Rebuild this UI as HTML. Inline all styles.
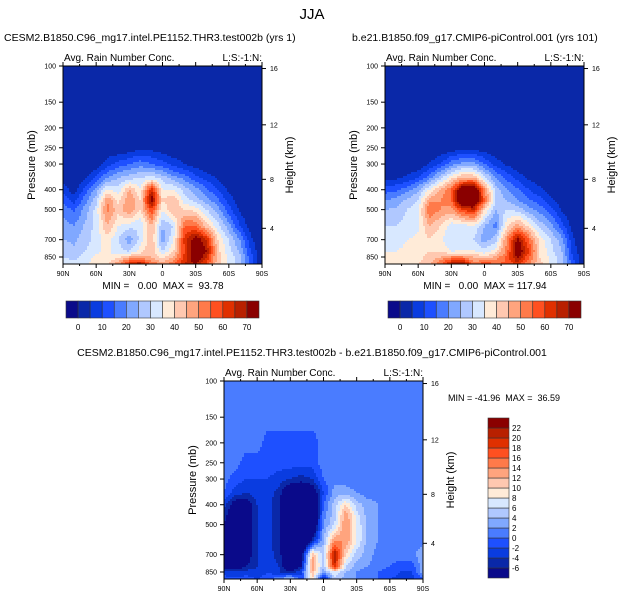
<!DOCTYPE html>
<html><head><meta charset="utf-8">
<style>
body{margin:0;background:#fff;}
svg{display:block;font-family:"Liberation Sans",Arial,sans-serif;}
</style></head>
<body>
<svg id="fig" width="624" height="602" viewBox="0 0 624 602">
<rect width="624" height="602" fill="#fff"/>
<text x="312" y="19" font-size="15" text-anchor="middle">JJA</text>
</svg>
<script>
// ===== data =====
const lats = [90,80,70,60,50,40,30,20,10,0,-10,-20,-30,-40,-50,-60,-70,-80,-90];
const pLevels = [100,150,200,250,300,350,400,450,500,600,700,800,850,925];
const latTickLabels = ["90N","60N","30N","0","30S","60S","90S"];
const latTicks = [90,60,30,0,-30,-60,-90];
const pTicks = [100,150,200,250,300,400,500,700,850];
const zTicks = [4,8,12,16];
const topBounds = [0,5,10,15,20,25,30,35,40,45,50,55,60,65,70];
const topBoundLabels = [0,10,20,30,40,50,60,70];
const diffBounds = [-6,-4,-2,0,2,4,6,8,10,12,14,16,18,20,22];
const palette = ["#0a0a8a","#0a28a8","#0a3ce0","#1e50ff","#4a7cff","#80a8ff","#b0c8ff","#d8e8ff","#ffebd8","#ffc8b0","#ffa47e","#ff7a4a","#ff5020","#e03000","#b82000","#8a0000"];

const fieldTest = [
 [0,0,0,0,0,0,0,0,0,0,0,0,0,0,0,0,0,0,0],
 [0,0,0,0,0,0,0,0,0,0,0,0,0,0,0,0,0,0,0],
 [0,0,0,0,0,0,0,0,0,0,0,0,0,0,0,0,0,0,0],
 [0,0,0,0,0,0,1,3,3,1,0,0,0,0,0,0,0,0,0],
 [0,0,0,0,8,12,15,18,15,12,8,5,2,0,0,0,0,0,0],
 [2,0,4,12,20,25,28,30,32,28,22,18,12,8,4,0,0,0,0],
 [8,2,12,22,35,32,45,35,65,35,35,28,22,16,10,4,0,0,0],
 [14,8,18,28,50,38,50,40,75,40,45,32,28,22,16,8,2,0,0],
 [18,14,22,32,52,42,50,40,60,35,45,40,38,30,22,12,4,0,0],
 [22,20,26,32,45,35,32,30,45,25,30,55,55,42,32,22,10,2,0],
 [25,24,28,32,38,30,22,32,45,22,35,62,75,65,40,30,20,6,0],
 [28,26,30,34,36,32,30,38,45,30,40,60,80,70,42,32,24,10,0],
 [30,28,32,36,36,38,45,45,45,38,45,62,78,65,42,34,26,12,0],
 [34,32,34,38,40,50,65,72,55,48,55,65,70,58,42,34,28,14,0]
];
const fieldCtl = [
 [0,0,0,0,0,0,0,0,0,0,0,0,0,0,0,0,0,0,0],
 [0,0,0,0,0,0,0,0,0,0,0,0,0,0,0,0,0,0,0],
 [0,0,0,0,0,0,0,0,0,0,0,0,0,0,0,0,0,0,0],
 [0,0,0,0,0,0,1,3,3,1,0,0,0,0,0,0,0,0,0],
 [0,0,0,0,5,10,18,22,22,15,8,4,1,0,0,0,0,0,0],
 [3,4,6,10,18,28,38,45,45,32,20,14,8,4,2,0,0,0,0],
 [12,14,18,24,35,45,55,80,85,50,28,20,16,10,6,3,0,0,0],
 [20,22,26,30,48,50,55,85,85,55,30,25,20,16,12,6,2,0,0],
 [25,26,30,34,55,50,48,60,65,40,25,30,28,22,18,12,4,0,0],
 [30,30,32,34,45,40,32,32,35,25,18,38,48,38,28,22,12,2,0],
 [33,33,35,36,40,36,30,30,30,22,28,50,72,55,38,30,22,6,0],
 [35,35,36,38,40,40,35,36,36,32,38,52,78,60,40,32,25,8,0],
 [36,36,37,38,42,45,50,50,45,42,46,56,72,56,40,34,27,10,0],
 [38,38,38,40,44,55,70,75,52,60,56,56,62,50,42,34,28,12,0]
];
const fieldDiff = [
 [1,1,1,1,1,1,1,1,1,1,1,1,1,1,1,1,1,1,1],
 [1,1,1,1,1,1,1,1,1,1,1,1,1,1,1,1,1,1,1],
 [1,1,1,1,-1,-1,-1,-1,-1,1,1,1,1,1,1,1,1,1,1],
 [1,1,-1,-1,-1,-1,-1,-1,-1,1,1,1,1,1,1,1,1,1,1],
 [1,-1,-2,-2,-2,-3,-4,-5,-4,0,1,1,1,1,1,1,1,1,1],
 [0,-3,-4,-3,-3,-5,-10,-10,-9,-2,3,3,2,1,1,1,1,1,1],
 [-3,-8,-8,-4,-3,-6,-15,-15,-12,0,5,10,5,3,2,1,1,1,1],
 [-5,-9,-8,-4,-3,-6,-15,-15,-12,1,5,14,7,3,2,1,1,1,1],
 [-6,-10,-8,-4,-3,-6,-15,-15,-12,2,6,14,8,3,2,1,1,1,1],
 [-8,-10,-8,-4,-3,-6,-15,-15,-5,4,14,14,8,3,2,1,1,1,1],
 [-8,-10,-8,-4,-3,-5,-12,-8,12,5,22,10,5,3,1,1,1,1,4],
 [-8,-8,-6,-4,-3,-4,-10,-6,14,4,20,6,3,2,1,0,-1,-1,3],
 [-4,-4,-3,-3,-2,-4,-6,-2,12,3,8,4,2,1,0,-1,-2,-2,3],
 [0,-1,-1,-2,-1,2,6,-2,10,-6,5,3,2,1,0,-2,-3,-3,0]
];

// ===== drawing =====
const NS = "http://www.w3.org/2000/svg";
const svg = document.getElementById("fig");
function mk(tag, attrs, parent){
  const e = document.createElementNS(NS, tag);
  for (const k in attrs) e.setAttribute(k, attrs[k]);
  (parent||svg).appendChild(e);
  return e;
}
const K = 205.5;
function zToP(z){
  const m = z*1000;
  if (m <= 11000) return 1013.25*Math.pow(1-2.25577e-5*m, 5.25588);
  return 226.32*Math.exp(-(m-11000)/6341.6);
}
function levelIndex(v, bounds){
  let i = 0;
  while (i < bounds.length && v >= bounds[i]) i++;
  return i;
}
function sample(field, lat, p){
  let fi = (lats[0]-lat)/(lats[0]-lats[lats.length-1])*(lats.length-1);
  fi = Math.max(0, Math.min(lats.length-1.0001, fi));
  const i0 = Math.floor(fi), ti = fi-i0;
  const lp = Math.log10(p);
  let j0 = 0;
  while (j0 < pLevels.length-2 && Math.log10(pLevels[j0+1]) < lp) j0++;
  let tj = (lp-Math.log10(pLevels[j0]))/(Math.log10(pLevels[j0+1])-Math.log10(pLevels[j0]));
  tj = Math.max(0, Math.min(1, tj));
  const a = field[j0][i0]*(1-ti)+field[j0][i0+1]*ti;
  const b = field[j0+1][i0]*(1-ti)+field[j0+1][i0+1]*ti;
  return a*(1-tj)+b*tj;
}

function panel(cfg){
  const {x0,y0,w,h,field,bounds,name} = cfg;
  const g = mk("g",{});
  
  
  const xOf = lat => x0 + (90-lat)/180*w;
  const yOf = p => y0 + (Math.log10(p)-2)*K;
  const step = 2;
  for (let y = y0; y < y0+h; y += step){
    const p = Math.pow(10, 2 + (y+step/2-y0)/K);
    const hh = Math.min(step, y0+h-y)+0.5;
    let runStart = x0, runIdx = -1;
    const flush = (xe)=>{
      if (runIdx < 0) return;
      const r = mk("rect",{x:runStart,y:y,width:xe-runStart+0.3,height:hh,fill:palette[runIdx]},g);
      
      
    };
    for (let x = x0; x < x0+w; x += step){
      const lat = 90 - (Math.min(x+step/2, x0+w)-x0)/w*180;
      const idx = levelIndex(sample(field, lat, p), bounds);
      if (idx !== runIdx){
        flush(x);
        runStart = x; runIdx = idx;
      }
    }
    flush(x0+w-0.3);
  }
  const fr = mk("rect",{x:x0,y:y0,width:w,height:h,fill:"none",stroke:"#000","stroke-width":1});
  
  
  latTicks.forEach((lat,k)=>{
    const x = xOf(lat);
    mk("line",{x1:x,y1:y0+h,x2:x,y2:y0+h+4,stroke:"#000"});
    mk("line",{x1:x,y1:y0,x2:x,y2:y0-4,stroke:"#000"});
    const t = mk("text",{x:x,y:y0+h+12,"font-size":7,"text-anchor":"middle"});
    t.textContent = latTickLabels[k];
    
    
  });
  for (let lat=75; lat>-90; lat-=15){
    if (lat%30===0) continue;
    const x = xOf(lat);
    mk("line",{x1:x,y1:y0+h,x2:x,y2:y0+h+2,stroke:"#000"});
    mk("line",{x1:x,y1:y0,x2:x,y2:y0-2,stroke:"#000"});
  }
  pTicks.forEach(p=>{
    const y = yOf(p);
    mk("line",{x1:x0-4,y1:y,x2:x0,y2:y,stroke:"#000"});
    const t = mk("text",{x:x0-7,y:y+2.5,"font-size":7,"text-anchor":"end"});
    t.textContent = p;
    
    
  });
  zTicks.forEach(z=>{
    const y = yOf(zToP(z));
    mk("line",{x1:x0+w,y1:y,x2:x0+w+4,y2:y,stroke:"#000"});
    const t = mk("text",{x:x0+w+8,y:y+2.5,"font-size":7});
    t.textContent = z;
    
    
  });
  const t1 = mk("text",{x:x0+1,y:y0-5,"font-size":10});
  t1.textContent = "Avg. Rain Number Conc.";
  
  
  const t2 = mk("text",{x:x0+w,y:y0-5,"font-size":10,"text-anchor":"end"});
  t2.textContent = "L:S:-1:N:";
  
  
  const cy = y0+h/2;
  const t3 = mk("text",{x:x0-28,y:cy,"font-size":11,"text-anchor":"middle",transform:`rotate(-90 ${x0-28} ${cy})`});
  t3.textContent = "Pressure (mb)";
  
  
  const t4 = mk("text",{x:x0+w+31,y:cy,"font-size":11,"text-anchor":"middle",transform:`rotate(-90 ${x0+w+31} ${cy})`});
  t4.textContent = "Height (km)";
  
  
}

function hbar(x0,y0,w,h){
  const n = palette.length, bw = w/n;
  palette.forEach((c,i)=>{
    const r = mk("rect",{x:x0+i*bw,y:y0,width:bw,height:h,fill:c,stroke:"#333","stroke-width":0.6});
    
    
  });
  topBoundLabels.forEach(v=>{
    const i = topBounds.indexOf(v)+1;
    const t = mk("text",{x:x0+i*bw,y:y0+h+12,"font-size":8,"text-anchor":"middle"});
    t.textContent = v;
    
    
  });
}
function vbar(x0,y0,w,h){
  const n = palette.length, bh = h/n;
  palette.forEach((c,i)=>{
    const r = mk("rect",{x:x0,y:y0+h-(i+1)*bh,width:w,height:bh,fill:c,stroke:"#333","stroke-width":0.6});
    
    
  });
  diffBounds.forEach((v,k)=>{
    const y = y0+h-(k+1)*bh;
    const t = mk("text",{x:x0+w+3,y:y+3,"font-size":8});
    t.textContent = v;
    
    
  });
}
function label(txt,x,y,size,anchor,name){
  const t = mk("text",{x:x,y:y,"font-size":size,"text-anchor":anchor||"start"});
  t.textContent = txt;
  
  
  t.style.whiteSpace = "pre";
}

label("CESM2.B1850.C96_mg17.intel.PE1152.THR3.test002b (yrs 1)",4,41,10.5,"start","test-panel-title");
label("b.e21.B1850.f09_g17.CMIP6-piControl.001 (yrs 101)",352,41,10.5,"start","control-panel-title");
label("CESM2.B1850.C96_mg17.intel.PE1152.THR3.test002b - b.e21.B1850.f09_g17.CMIP6-piControl.001",312,356,10.5,"middle","diff-panel-title");

panel({x0:63,y0:66,w:199,h:198,field:fieldTest,bounds:topBounds,name:"test-plot"});
panel({x0:385,y0:66,w:199,h:198,field:fieldCtl,bounds:topBounds,name:"control-plot"});
panel({x0:224,y0:381,w:199,h:198,field:fieldDiff,bounds:diffBounds,name:"diff-plot"});

label("MIN =   0.00  MAX =  93.78",163,289,10,"middle","test-min-max");
label("MIN =   0.00  MAX = 117.94",485,289,10,"middle","control-min-max");
label("MIN = -41.96  MAX =  36.59",448,401,9,"start","diff-min-max");

hbar(66,301,193,17);
hbar(388,301,193,17);
vbar(488,418,21,160);
</script>
</body></html>
